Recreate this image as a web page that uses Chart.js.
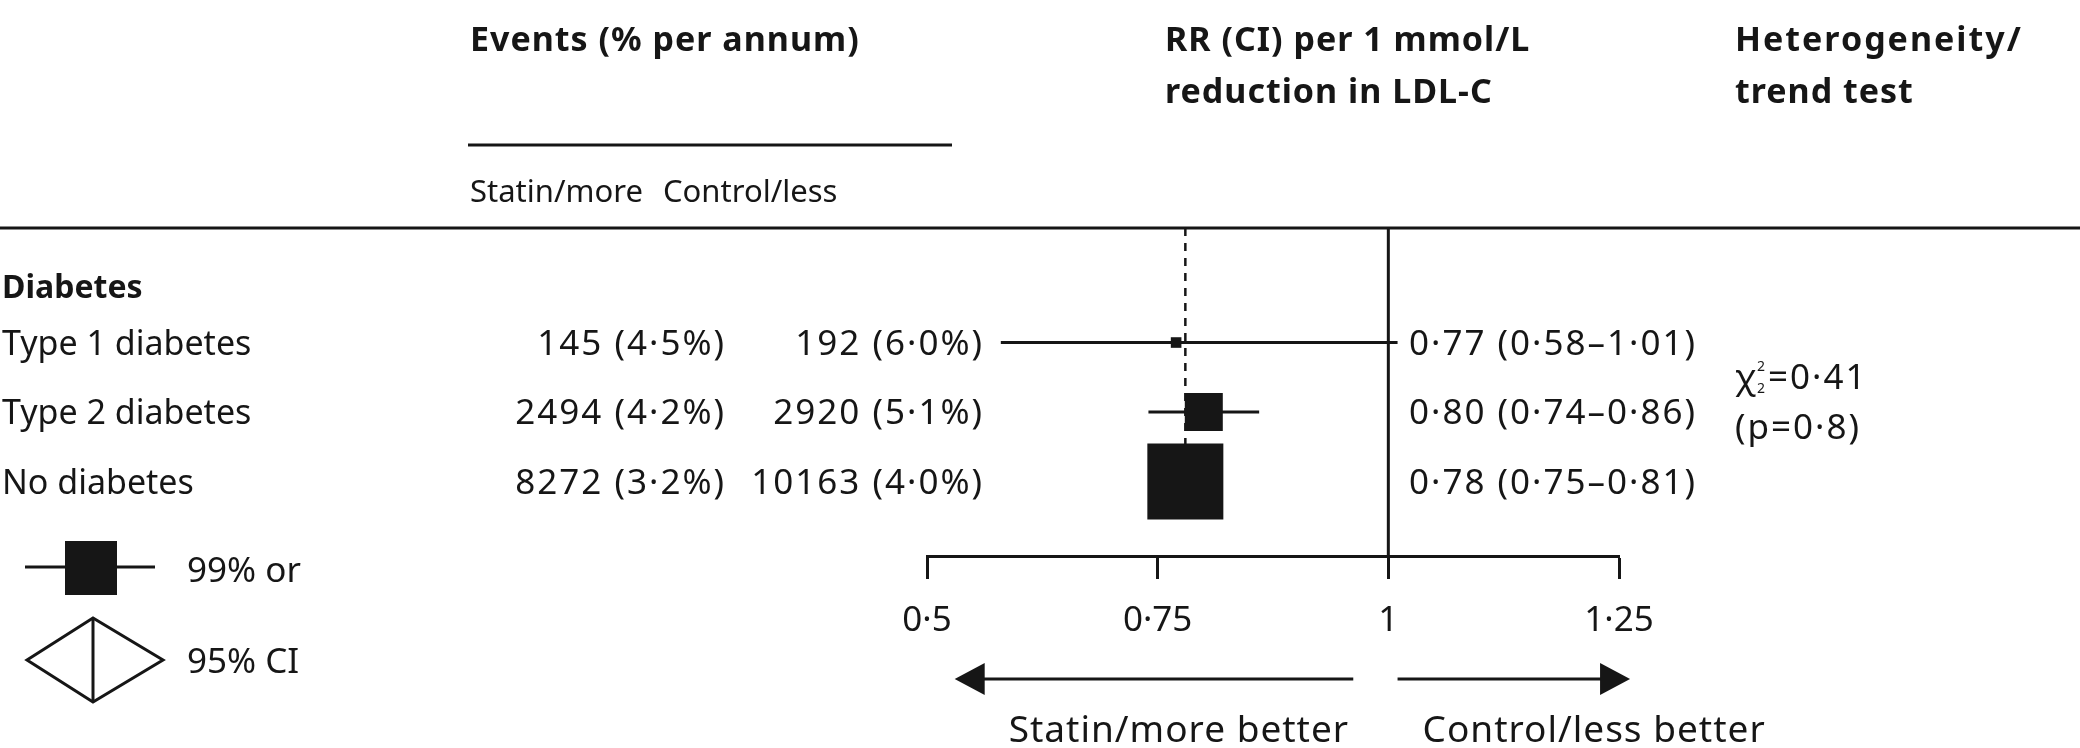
<!DOCTYPE html>
<html>
<head>
<meta charset="utf-8">
<script src="https://cdn.jsdelivr.net/npm/chart.js@4"></script>
<style>
  html, body { margin: 0; padding: 0; background: #fff; }
  canvas { display: block; }
</style>
</head>
<body>
<canvas id="forest" width="2080" height="748"></canvas>
<script>
// data
const groupTitle = 'Diabetes';
const subgroups = ['Type 1 diabetes', 'Type 2 diabetes', 'No diabetes'];
const statinEvents = ['145 (4·5%)', '2494 (4·2%)', '8272 (3·2%)'];
const controlEvents = ['192 (6·0%)', '2920 (5·1%)', '10163 (4·0%)'];
const rr = [0.77, 0.80, 0.78];
const ciLow = [0.58, 0.74, 0.75];
const ciHigh = [1.01, 0.86, 0.81];
const overallRR = 0.78;
const chiSquare = '0·41';
const pValue = '(p=0·8)';
const xTicks = [0.5, 0.75, 1, 1.25];

const fontFamily = '"Noto Sans", "Open Sans", sans-serif';
const ink = '#161616';
const yMin = -0.648;
const yMax = 4.072;

const fmt = (v) => v.toFixed(2).replace('.', '·');
// box side ~ inverse of CI width (inverse-variance weight)
const boxSide = (i) => 4.56 / (ciHigh[i] - ciLow[i]);

const annotations = {
  id: 'annotations',
  afterDraw(chart) {
    const ctx = chart.ctx;
    const xs = chart.scales.x;
    const ys = chart.scales.y;
    ctx.save();
    ctx.fillStyle = ink;
    ctx.strokeStyle = ink;
    ctx.textBaseline = 'alphabetic';

    const text = (s, px, py, align = 'left', size = 34, spacing = 0, bold = false) => {
      ctx.font = `${bold ? 'bold ' : ''}${size}px ${fontFamily}`;
      ctx.letterSpacing = spacing + 'px';
      ctx.textAlign = align;
      ctx.fillText(s, px, py);
    };
    const header = (s, px, py, size = 34) => text(s, px, py, 'left', size, 1, true);
    const num = (s, px, py, align = 'left') => text(s, px, py, align, 35, 2);
    const line = (x1, y1, x2, y2, w = 3) => {
      ctx.lineWidth = w;
      ctx.beginPath();
      ctx.moveTo(x1, y1);
      ctx.lineTo(x2, y2);
      ctx.stroke();
    };
    const arrow = (from, to, py) => {
      const dir = Math.sign(to - from);
      line(from, py, to - dir * 28, py);
      ctx.beginPath();
      ctx.moveTo(to, py);
      ctx.lineTo(to - dir * 30, py - 16);
      ctx.lineTo(to - dir * 30, py + 16);
      ctx.closePath();
      ctx.fill();
    };
    const rowBase = (v) => ys.getPixelForValue(v) + 12;

    // column headers
    header('Events (% per annum)', 470, 51);
    line(468, 145, 952, 145);
    text('Statin/more', 470, 202, 'left', 31);
    text('Control/less', 663, 202, 'left', 31);
    header('RR (CI) per 1 mmol/L', 1165, 51);
    header('reduction in LDL-C', 1165, 103);
    text('Heterogeneity/', 1735, 51, 'left', 34, 2, true);
    header('trend test', 1735, 103);
    line(0, 228, 2080, 228);

    // rows
    text(groupTitle, 2, rowBase(1) - 57, 'left', 32, 0, true);
    subgroups.forEach((name, i) => {
      const py = rowBase(i + 1);
      text(name, 2, py);
      num(statinEvents[i], 726, py, 'right');
      num(controlEvents[i], 984, py, 'right');
      num(`${fmt(rr[i])} (${fmt(ciLow[i])}–${fmt(ciHigh[i])})`, 1409, py);
    });

    // heterogeneity test
    const hy = (rowBase(1) + rowBase(2)) / 2;
    text('χ', 1735, hy, 'left', 35);
    text('2', 1757, hy - 18, 'left', 14);
    text('2', 1757, hy + 4, 'left', 14);
    num('=' + chiSquare, 1768, hy);
    num(pValue, 1735, hy + 50);

    // legend
    line(25, 567, 155, 567);
    ctx.fillRect(65, 541, 52, 54);
    text('99% or', 187, 582, 'left', 35);
    ctx.lineWidth = 3;
    ctx.beginPath();
    ctx.moveTo(27, 660);
    ctx.lineTo(93, 618);
    ctx.lineTo(163, 660);
    ctx.lineTo(93, 702);
    ctx.closePath();
    ctx.stroke();
    line(93, 618, 93, 702);
    text('95% CI', 187, 673, 'left', 35);

    // direction arrows
    arrow(xs.getPixelForValue(0.962), xs.getPixelForValue(0.53), 679);
    arrow(xs.getPixelForValue(1.01), xs.getPixelForValue(1.262), 679);
    text('Statin/more better', xs.getPixelForValue(0.773), 742, 'center', 37, 1);
    text('Control/less better', xs.getPixelForValue(1.223), 742, 'center', 37, 1);

    ctx.restore();
  }
};

const segment = (x1, y1, x2, y2, extra = {}) => Object.assign({
  showLine: true,
  data: [{ x: x1, y: y1 }, { x: x2, y: y2 }],
  borderColor: ink,
  borderWidth: 3,
  pointRadius: 0
}, extra);

const datasets = [
  {
    data: rr.map((v, i) => ({ x: v, y: i + 1 })),
    pointStyle: 'rect',
    pointRadius: rr.map((v, i) => boxSide(i) / Math.SQRT2),
    backgroundColor: ink,
    borderWidth: 0
  },
  ...rr.map((v, i) => segment(ciLow[i], i + 1, ciHigh[i], i + 1)),
  segment(1, yMin, 1, yMax),
  segment(overallRR, yMin, overallRR, 3, { borderWidth: 2.5, borderDash: [8, 7] })
];

new Chart(document.getElementById('forest'), {
  type: 'scatter',
  data: { datasets },
  options: {
    responsive: false,
    animation: false,
    devicePixelRatio: 1,
    layout: { padding: { left: 927, right: 461, top: 228, bottom: 0 } },
    plugins: { legend: { display: false }, tooltip: { enabled: false } },
    scales: {
      x: {
        type: 'linear',
        min: 0.5,
        max: 1.25,
        afterBuildTicks: (s) => { s.ticks = xTicks.map(v => ({ value: v })); },
        afterFit: (s) => { s.height = 192; },
        ticks: {
          callback: (v) => String(v).replace('.', '·'),
          font: { family: fontFamily, size: 35 },
          color: ink,
          padding: 21,
          maxRotation: 0,
          autoSkip: false
        },
        grid: { drawOnChartArea: false, drawTicks: true, tickLength: 23, tickWidth: 3, tickColor: ink },
        border: { display: true, width: 3, color: ink }
      },
      y: {
        type: 'linear',
        reverse: true,
        min: yMin,
        max: yMax,
        display: false
      }
    }
  },
  plugins: [annotations]
});
</script>
</body>
</html>
